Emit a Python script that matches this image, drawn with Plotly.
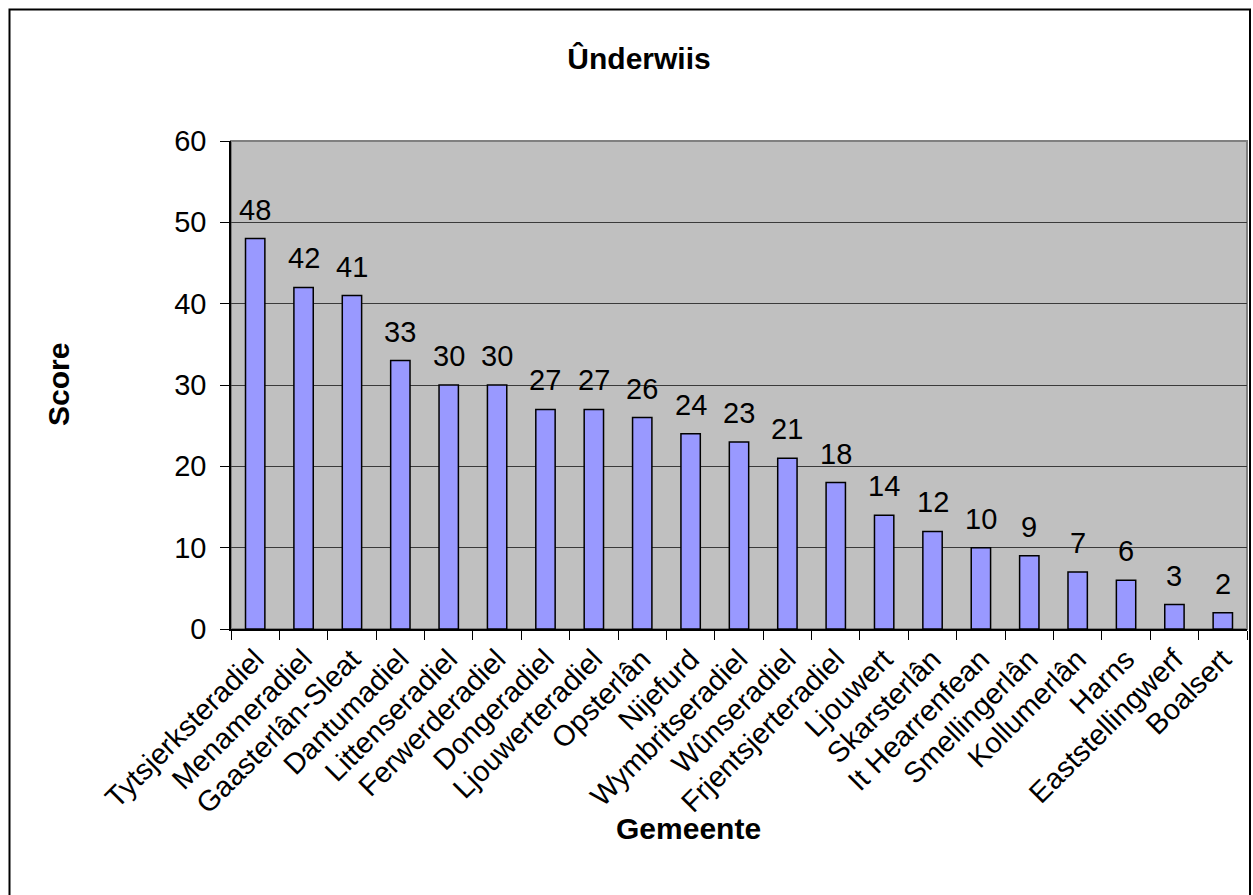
import plotly.graph_objects as go

# Scores per gemeente (municipality)
gemeenten = [
    "Tytsjerksteradiel", "Menameradiel", "Gaasterlân-Sleat", "Dantumadiel",
    "Littenseradiel", "Ferwerderadiel", "Dongeradiel", "Ljouwerteradiel",
    "Opsterlân", "Nijefurd", "Wymbritseradiel", "Wûnseradiel",
    "Frjentsjerteradiel", "Ljouwert", "Skarsterlân", "It Hearrenfean",
    "Smellingerlân", "Kollumerlân", "Harns", "Eaststellingwerf", "Boalsert",
]
scores = [48, 42, 41, 33, 30, 30, 27, 27, 26, 24, 23, 21, 18, 14, 12, 10, 9, 7, 6, 3, 2]

y_ticks = [0, 10, 20, 30, 40, 50, 60]

W, H = 1253, 895
L, R, T, B = 231, 1247, 141, 629  # plot area edges in pixels


def px_x(p):
    return (p - L) / (R - L)


def px_y(p):
    return (B - p) / (B - T)


FONT = "Liberation Sans, Arial, sans-serif"

fig = go.Figure(
    go.Bar(
        x=gemeenten,
        y=scores,
        marker=dict(color="#9999FF", line=dict(color="#000000", width=1.5)),
        hoverinfo="x+y",
    )
)

# value labels above each bar
for g, s in zip(gemeenten, scores):
    fig.add_annotation(
        x=g, y=s, text=str(s), showarrow=False, xanchor="center", yanchor="bottom",
        yshift=11, font=dict(family=FONT, size=29, color="#000000"),
    )

# axis titles
fig.add_annotation(
    x=px_x(58), y=0.5, xref="paper", yref="paper", text="<b>Score</b>",
    textangle=-90, showarrow=False, xanchor="center", yanchor="middle",
    font=dict(family=FONT, size=30, color="#000000"),
)
fig.add_annotation(
    x=px_x(688), y=px_y(828), xref="paper", yref="paper", text="<b>Gemeente</b>",
    showarrow=False, xanchor="center", yanchor="middle",
    font=dict(family=FONT, size=30, color="#000000"),
)

# plot area border and outer chart frame
fig.add_shape(
    type="rect", xref="paper", yref="paper", x0=0, x1=1, y0=0, y1=1,
    line=dict(color="#808080", width=2), layer="below",
)
fig.add_shape(
    type="rect", xref="paper", yref="paper",
    x0=px_x(9.5), x1=px_x(1250), y0=px_y(900), y1=px_y(9.5),
    line=dict(color="#000000", width=2),
)

fig.update_layout(
    width=W, height=H,
    margin=dict(l=L, r=W - R, t=T, b=H - B, autoexpand=False),
    paper_bgcolor="#FFFFFF",
    plot_bgcolor="#C0C0C0",
    bargap=0.6,
    showlegend=False,
    font=dict(family=FONT, color="#000000"),
    title=dict(
        text="<b>Ûnderwiis</b>", xref="container", yref="container",
        x=639 / W, y=1 - 58 / H, xanchor="center", yanchor="middle",
        font=dict(family=FONT, size=30, color="#000000"),
    ),
    xaxis=dict(
        tickangle=-45, tickfont=dict(family=FONT, size=29, color="#000000"),
        ticks="outside", tickson="boundaries", ticklen=9, tickcolor="#000000",
        showline=True, linecolor="#000000", linewidth=1.5,
        showgrid=False, fixedrange=True,
    ),
    yaxis=dict(
        range=[0, 60], tickvals=y_ticks,
        tickfont=dict(family=FONT, size=29, color="#000000"),
        ticks="outside", ticklen=9, tickcolor="#000000", ticklabelstandoff=8,
        showline=True, linecolor="#000000", linewidth=1.5,
        showgrid=True, gridcolor="#3a3a3a", gridwidth=1,
        zeroline=False, fixedrange=True,
    ),
)

fig.write_html("out.html")
